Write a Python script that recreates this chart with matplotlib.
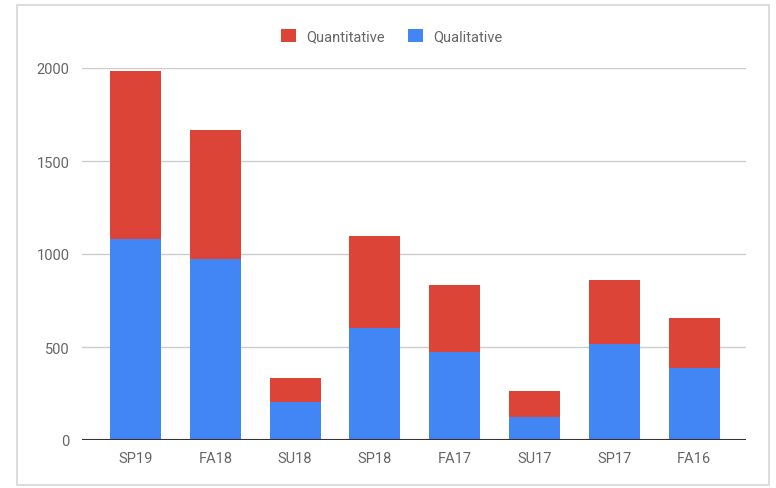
import numpy as np
import matplotlib.pyplot as plt
from matplotlib.patches import Rectangle

# datos
terms = ["SP19", "FA18", "SU18", "SP18", "FA17", "SU17", "SP17", "FA16"]
qualitative = [1078, 973, 204, 603, 475, 125, 518, 387]
quantitative = [905, 693, 129, 496, 356, 139, 342, 270]

blue = "#4285F4"
red = "#DB4437"
gray_txt = "#666666"

plt.rcParams["font.family"] = ["Roboto", "DejaVu Sans"]

fig = plt.figure(figsize=(7.76, 4.89), dpi=100)

# marco tipo tarjeta
card = Rectangle((17 / 776, 3 / 489), 752 / 776, 480 / 489, transform=fig.transFigure,
                 facecolor="white", edgecolor="#d6d6d6", linewidth=1.2, zorder=-10)
fig.patches.append(card)

ax = fig.add_axes([82 / 776, 48 / 489, 664 / 776, 372 / 489])
ax.patch.set_alpha(0)

x = np.arange(len(terms))
ax.bar(x, qualitative, width=0.64, color=blue, label="Qualitative", zorder=3)
ax.bar(x, quantitative, width=0.64, bottom=qualitative, color=red,
       label="Quantitative", zorder=3)

ax.set_xlim(-0.67, 7.65)
ax.set_ylim(0, 2000)
ax.set_yticks([0, 500, 1000, 1500, 2000])
ax.set_xticks(x)
ax.set_xticklabels(terms)

ax.grid(axis="y", color="#cccccc", linewidth=1, zorder=0)
ax.axhline(0, color="#333333", linewidth=1.5, zorder=4)
for s in ax.spines.values():
    s.set_visible(False)
ax.tick_params(axis="both", length=0, labelsize=10.5, colors=gray_txt)
ax.tick_params(axis="y", pad=9)
ax.tick_params(axis="x", pad=8)

h, l = ax.get_legend_handles_labels()
fig.legend(h[::-1], l[::-1], loc="center", bbox_to_anchor=(0.505, 1 - 37 / 489),
           ncol=2, frameon=False, handlelength=1.0, handleheight=1.0,
           handletextpad=0.7, columnspacing=1.6, fontsize=10.5, labelcolor=gray_txt)

plt.savefig("out.png", dpi=100)
